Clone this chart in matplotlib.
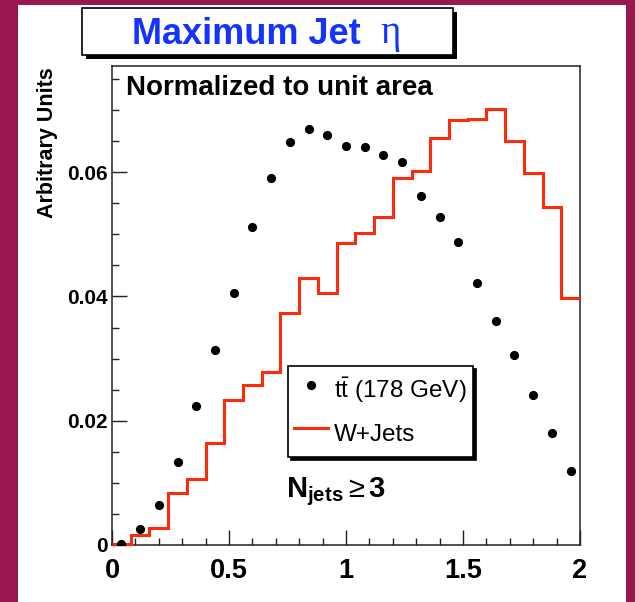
import numpy as np
import matplotlib
matplotlib.use("Agg")
import matplotlib.pyplot as plt
from matplotlib.patches import Rectangle
from matplotlib.lines import Line2D
from matplotlib.ticker import MultipleLocator, FixedLocator

plt.rcParams['font.family'] = ['Liberation Sans', 'DejaVu Sans']
plt.rcParams['mathtext.fontset'] = 'custom'
plt.rcParams['mathtext.rm'] = 'Liberation Sans'
plt.rcParams['mathtext.bf'] = 'Liberation Sans:bold'
plt.rcParams['mathtext.it'] = 'Liberation Sans:italic'
plt.rcParams['mathtext.fallback'] = 'stix'

# ---- data ----
bin_edges = np.linspace(0, 2, 26)
ttbar = [0.0001, 0.0025, 0.0065, 0.0134, 0.0223, 0.0314, 0.0406, 0.0512, 0.0591,
         0.0648, 0.0670, 0.0660, 0.0643, 0.0640, 0.0628, 0.0617, 0.0561, 0.0528,
         0.0488, 0.0422, 0.0361, 0.0306, 0.0242, 0.0181, 0.0119]
wjets = [0.0001, 0.0016, 0.0027, 0.0084, 0.0106, 0.0164, 0.0233, 0.0258, 0.0278,
         0.0374, 0.0430, 0.0405, 0.0486, 0.0503, 0.0528, 0.0590, 0.0602, 0.0655,
         0.0684, 0.0686, 0.0701, 0.0650, 0.0599, 0.0544, 0.0398]
x_ticks = [0, 0.5, 1, 1.5, 2]
x_tick_labels = ["0", "0.5", "1", "1.5", "2"]
y_ticks = [0, 0.02, 0.04, 0.06]
y_tick_labels = ["0", "0.02", "0.04", "0.06"]
series_labels = [r"t$\bar{\mathrm{t}}$ (178 GeV)", "W+Jets"]
title_text = "Maximum Jet"
title_symbol = "\u03b7"
ylabel_text = "Arbitrary Units"
note_text = "Normalized to unit area"
njets_text = r"$\mathbf{N}_{\mathbf{jets}}\geq\mathbf{3}$"

W, H = 635, 602
MAROON = '#98174f'
RED = '#ff2a0a'
BLUE = '#1433ff'

fig = plt.figure(figsize=(W / 100, H / 100), dpi=100)
fig.patch.set_facecolor('white')

def fx(x):
    return x / W

def fy(y):
    return 1 - y / H

# maroon border (left, top, right)
fig.patches.append(Rectangle((0, 0), fx(18), 1, transform=fig.transFigure,
                             facecolor=MAROON, edgecolor='none', zorder=0))
fig.patches.append(Rectangle((0, fy(5)), 1, 5 / H, transform=fig.transFigure,
                             facecolor=MAROON, edgecolor='none', zorder=0))
fig.patches.append(Rectangle((fx(626), 0), fx(9), 1, transform=fig.transFigure,
                             facecolor=MAROON, edgecolor='none', zorder=0))

# axes
ax = fig.add_axes([fx(112), fy(545), fx(580 - 112), (545 - 66) / H])
centers = 0.5 * (bin_edges[:-1] + bin_edges[1:])

ax.stairs(wjets, bin_edges, baseline=None, color=RED, linewidth=2.2,
          label=series_labels[1], zorder=3, clip_on=False)
ax.plot(centers, ttbar, linestyle='none', marker='o', color='black',
        markersize=5.6, label=series_labels[0], zorder=4)

ax.set_xlim(0, 2)
ax.set_ylim(0, 0.0771)

ax.xaxis.set_major_locator(FixedLocator(x_ticks))
ax.xaxis.set_minor_locator(MultipleLocator(0.1))
ax.set_xticklabels(x_tick_labels)
ax.yaxis.set_major_locator(FixedLocator(y_ticks))
ax.yaxis.set_minor_locator(MultipleLocator(0.005))
ax.set_yticklabels(y_tick_labels)

ax.tick_params(axis='both', which='both', direction='in', top=False, right=False,
               color='#222222', width=1.0)
ax.tick_params(axis='both', which='major', length=10.5)
ax.tick_params(axis='both', which='minor', length=5.2)
ax.tick_params(axis='x', which='major', labelsize=19.5, pad=9)
ax.tick_params(axis='y', which='major', labelsize=15, pad=3)
for lab in ax.get_xticklabels() + ax.get_yticklabels():
    lab.set_fontweight('bold')
for sp in ax.spines.values():
    sp.set_linewidth(1.1)
    sp.set_color('#222222')

# legend
handles, labels = ax.get_legend_handles_labels()
h_line = Line2D([], [], color=RED, linewidth=2.2)
leg = ax.legend([handles[1], h_line], [labels[1], labels[0]],
                loc='upper left', bbox_to_anchor=(fx(288), fy(366)),
                bbox_transform=fig.transFigure, borderaxespad=0,
                fontsize=17.5, frameon=True, fancybox=False,
                edgecolor='black', framealpha=1, borderpad=0.25,
                handlelength=1.4, handleheight=1.9, handletextpad=0.25,
                labelspacing=0.3,
                numpoints=1, shadow={'color': 'black', 'alpha': 1})
leg.get_frame().set_linewidth(1.2)

# texts
fig.text(fx(126), fy(95), note_text, fontsize=20, fontweight='bold',
         ha='left', va='baseline')
fig.text(fx(286), fy(497), njets_text, fontsize=21, ha='left', va='baseline')
fig.text(fx(48), fy(67), ylabel_text, fontsize=15.5, fontweight='bold',
         rotation=90, ha='center', va='top')

# title box
fig.patches.append(Rectangle((fx(85.7), fy(59)), fx(371), (55 - 8.3) / H,
                             transform=fig.transFigure, facecolor='black',
                             edgecolor='none', zorder=1))
fig.patches.append(Rectangle((fx(81.7), fy(55)), fx(371), (55 - 8.3) / H,
                             transform=fig.transFigure, facecolor='white',
                             edgecolor='black', linewidth=1.2, zorder=2))
fig.text(fx(132), fy(43.5), title_text, fontsize=26, fontweight='bold',
         color=BLUE, ha='left', va='baseline', zorder=3)
fig.text(fx(380), fy(43.5), title_symbol, fontsize=28, family='Liberation Serif',
         color=BLUE, ha='left', va='baseline', zorder=3)

fig.savefig('out.png', dpi=100)
